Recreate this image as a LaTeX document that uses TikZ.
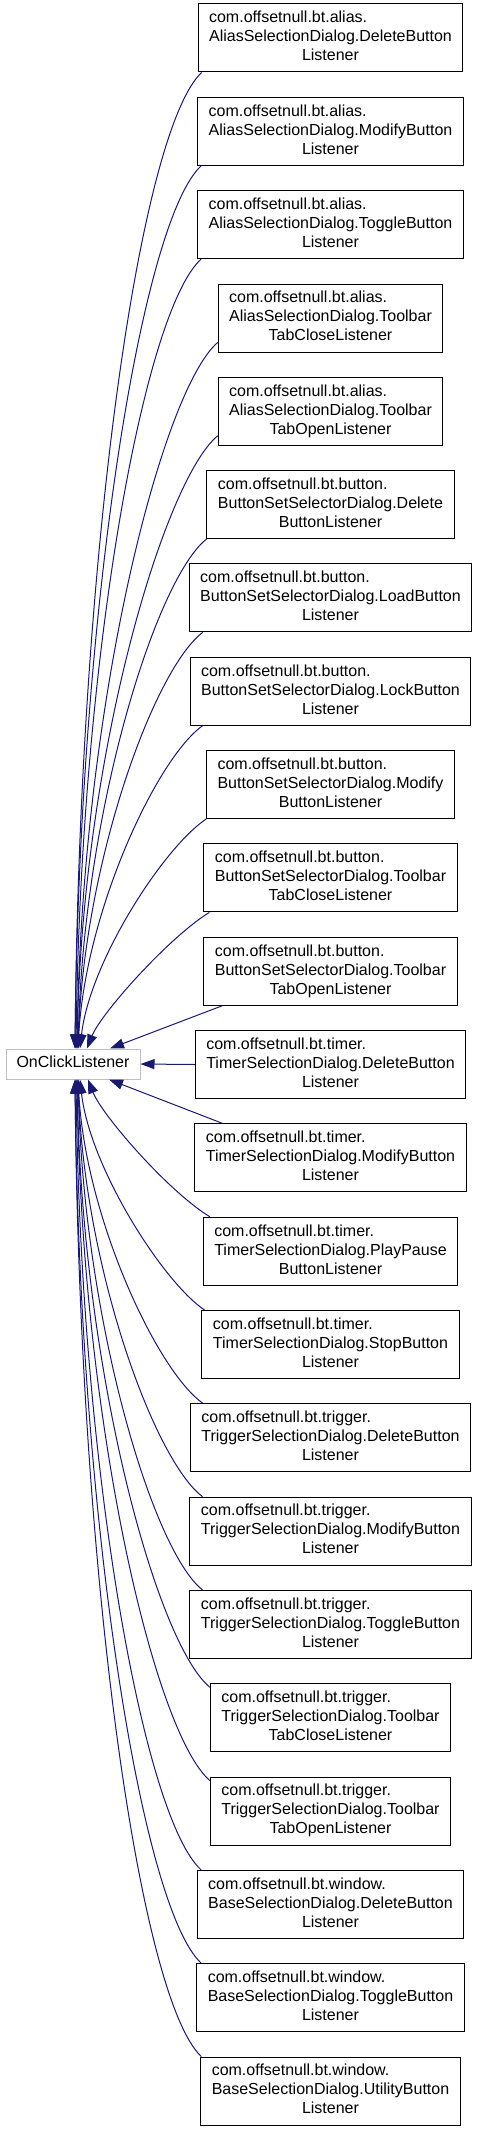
\documentclass[tikz,border=0pt]{standalone}
\usepackage{fontspec}
\setmainfont{Liberation Sans}
\usetikzlibrary{arrows.meta}
\definecolor{edgeblue}{HTML}{191970}
\definecolor{rootgray}{HTML}{BFBFBF}
\newcommand{\clsthree}[3]{\begin{tabular}{@{}l@{}}#1\\#2\\\multicolumn{1}{@{}c@{}}{#3}\end{tabular}}
\begin{document}
\begin{tikzpicture}[x=1pt,y=-1pt,
  cls/.style={draw=black, line width=1pt, fill=white, inner xsep=11pt, inner ysep=5.5pt, font=\fontsize{16}{19}\selectfont},
  root/.style={draw=rootgray, line width=1pt, fill=white, inner sep=0pt, minimum width=134pt, minimum height=30pt, font=\fontsize{16}{19}\selectfont},
  inh/.style={draw=edgeblue, line width=1pt, -{Triangle[length=14pt,width=10pt]}}]
\useasboundingbox (0,0) rectangle (477,2133);

\node[root] (ocl) at (73,1064) {\strut OnClickListener};

\node[cls] (b1) at (330.5,38) {\clsthree{com.offsetnull.bt.alias.}{AliasSelectionDialog.DeleteButton}{Listener}};
\node[cls] (b2) at (330.5,131.3) {\clsthree{com.offsetnull.bt.alias.}{AliasSelectionDialog.ModifyButton}{Listener}};
\node[cls] (b3) at (330.5,224.6) {\clsthree{com.offsetnull.bt.alias.}{AliasSelectionDialog.ToggleButton}{Listener}};
\node[cls] (b4) at (330.5,318.0) {\clsthree{com.offsetnull.bt.alias.}{AliasSelectionDialog.Toolbar}{TabCloseListener}};
\node[cls] (b5) at (330.5,411.3) {\clsthree{com.offsetnull.bt.alias.}{AliasSelectionDialog.Toolbar}{TabOpenListener}};
\node[cls] (b6) at (330.5,504.6) {\clsthree{com.offsetnull.bt.button.}{ButtonSetSelectorDialog.Delete}{ButtonListener}};
\node[cls] (b7) at (330.5,597.9) {\clsthree{com.offsetnull.bt.button.}{ButtonSetSelectorDialog.LoadButton}{Listener}};
\node[cls] (b8) at (330.5,691.2) {\clsthree{com.offsetnull.bt.button.}{ButtonSetSelectorDialog.LockButton}{Listener}};
\node[cls] (b9) at (330.5,784.6) {\clsthree{com.offsetnull.bt.button.}{ButtonSetSelectorDialog.Modify}{ButtonListener}};
\node[cls] (b10) at (330.5,877.9) {\clsthree{com.offsetnull.bt.button.}{ButtonSetSelectorDialog.Toolbar}{TabCloseListener}};
\node[cls] (b11) at (330.5,971.2) {\clsthree{com.offsetnull.bt.button.}{ButtonSetSelectorDialog.Toolbar}{TabOpenListener}};
\node[cls] (b12) at (330.5,1064.5) {\clsthree{com.offsetnull.bt.timer.}{TimerSelectionDialog.DeleteButton}{Listener}};
\node[cls] (b13) at (330.5,1157.8) {\clsthree{com.offsetnull.bt.timer.}{TimerSelectionDialog.ModifyButton}{Listener}};
\node[cls] (b14) at (330.5,1251.2) {\clsthree{com.offsetnull.bt.timer.}{TimerSelectionDialog.PlayPause}{ButtonListener}};
\node[cls] (b15) at (330.5,1344.5) {\clsthree{com.offsetnull.bt.timer.}{TimerSelectionDialog.StopButton}{Listener}};
\node[cls] (b16) at (330.5,1437.8) {\clsthree{com.offsetnull.bt.trigger.}{TriggerSelectionDialog.DeleteButton}{Listener}};
\node[cls] (b17) at (330.5,1531.1) {\clsthree{com.offsetnull.bt.trigger.}{TriggerSelectionDialog.ModifyButton}{Listener}};
\node[cls] (b18) at (330.5,1624.4) {\clsthree{com.offsetnull.bt.trigger.}{TriggerSelectionDialog.ToggleButton}{Listener}};
\node[cls] (b19) at (330.5,1717.8) {\clsthree{com.offsetnull.bt.trigger.}{TriggerSelectionDialog.Toolbar}{TabCloseListener}};
\node[cls] (b20) at (330.5,1811.1) {\clsthree{com.offsetnull.bt.trigger.}{TriggerSelectionDialog.Toolbar}{TabOpenListener}};
\node[cls] (b21) at (330.5,1904.4) {\clsthree{com.offsetnull.bt.window.}{BaseSelectionDialog.DeleteButton}{Listener}};
\node[cls] (b22) at (330.5,1997.7) {\clsthree{com.offsetnull.bt.window.}{BaseSelectionDialog.ToggleButton}{Listener}};
\node[cls] (b23) at (330.5,2091.0) {\clsthree{com.offsetnull.bt.window.}{BaseSelectionDialog.UtilityButton}{Listener}};

\draw[inh] ([xshift=4pt]b1.south west) .. controls (139.6,131.1) and (79.5,551.7) .. ([xshift=2pt]ocl.north);
\draw[inh] ([xshift=4pt]b2.south west) .. controls (141.9,220.6) and (79.7,603) .. ([xshift=2pt]ocl.north);
\draw[inh] ([xshift=4pt]b3.south west) .. controls (144.2,310.2) and (80.9,654.3) .. ([xshift=3pt]ocl.north);
\draw[inh] ([yshift=10pt]b4.south west) .. controls (162.3,390.3) and (82.1,700.2) .. ([xshift=4pt]ocl.north);
\draw[inh] ([yshift=10pt]b5.south west) .. controls (164.7,479.8) and (82.4,751.5) .. ([xshift=4pt]ocl.north);
\draw[inh] (b6.south west) .. controls (156.2,579) and (83.9,808.3) .. ([xshift=5pt]ocl.north);
\draw[inh] ([xshift=14pt]b7.south west) .. controls (154.6,668.6) and (84.6,859.6) .. ([xshift=5pt]ocl.north);
\draw[inh] ([xshift=13pt]b8.south west) .. controls (156.9,758.2) and (85.6,910.9) .. ([xshift=5pt]ocl.north);
\draw[inh] (b9.south west) .. controls (163.2,847.8) and (89.5,962.3) .. ([xshift=7pt]ocl.north);
\draw[inh] ([xshift=6pt]b10.south west) .. controls (168.6,937.4) and (100.9,1013.6) .. ([xshift=14pt]ocl.north);
\draw[inh] ([xshift=19pt]b11.south west) -- ([xshift=37pt]ocl.north);
\draw[inh] (b12.west) -- (ocl.east);
\draw[inh] ([xshift=28pt]b13.north west) -- ([xshift=36pt]ocl.south);
\draw[inh] ([xshift=7pt]b14.north west) .. controls (168.5,1191.7) and (101.9,1115) .. ([xshift=15pt]ocl.south);
\draw[inh] ([xshift=3pt]b15.north west) .. controls (162.2,1281.2) and (89.5,1166.3) .. ([xshift=7pt]ocl.south);
\draw[inh] ([xshift=13pt]b16.north west) .. controls (156.9,1370.8) and (85.6,1217.6) .. ([xshift=5pt]ocl.south);
\draw[inh] ([xshift=13pt]b17.north west) .. controls (154.5,1460.4) and (84.6,1269) .. ([xshift=5pt]ocl.south);
\draw[inh] ([xshift=13pt]b18.north west) .. controls (152.2,1549.9) and (83.9,1320.3) .. ([xshift=5pt]ocl.south);
\draw[inh] ([yshift=-4pt]b19.north west) .. controls (156.8,1643.6) and (82.5,1374) .. ([xshift=4pt]ocl.south);
\draw[inh] ([yshift=-4pt]b20.north west) .. controls (154.4,1732.9) and (82.1,1425.1) .. ([xshift=4pt]ocl.south);
\draw[inh] ([xshift=4.5pt]b21.north west) .. controls (144.2,1818.7) and (80.9,1474.3) .. ([xshift=3pt]ocl.south);
\draw[inh] ([xshift=5pt]b22.north west) .. controls (141.9,1908.3) and (79.7,1525.6) .. ([xshift=2pt]ocl.south);
\draw[inh] ([xshift=1pt]b23.north west) .. controls (139.5,1997.9) and (79.5,1576.9) .. ([xshift=2pt]ocl.south);
\end{tikzpicture}
\end{document}
